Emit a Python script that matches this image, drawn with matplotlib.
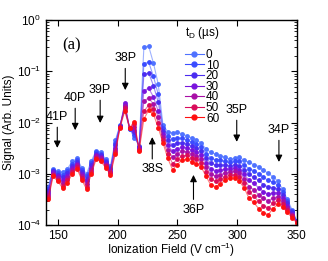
import numpy as np
import matplotlib
matplotlib.use("Agg")
import matplotlib.pyplot as plt

plt.rcParams['font.family'] = ['Liberation Sans', 'DejaVu Sans']
plt.rcParams['mathtext.default'] = 'regular'

# ionization field (V/cm)
field = np.arange(142, 351, 4)

# log10 of signal for each delay
log_0 = [-3.25, -2.9, -2.95, -2.97, -2.9, -2.76, -2.7, -2.88, -3.0, -2.75, -2.55, -2.58, -2.72, -2.85, -2.35, -2.05, -1.75, -2.12, -2.3, -2.45,
         -0.52, -0.51, -0.84, -1.25, -2.05, -2.18, -2.2, -2.19, -2.22, -2.26, -2.3, -2.34, -2.4, -2.52, -2.58, -2.62, -2.65, -2.68, -2.72, -2.7,
         -2.68, -2.74, -2.78, -2.82, -2.86, -2.93, -2.99, -3.06, -3.14, -3.3, -3.5, -3.7, -3.92]
log_10 = [-3.29, -2.92, -2.98, -3.02, -2.95, -2.8, -2.73, -2.92, -3.05, -2.79, -2.58, -2.61, -2.75, -2.88, -2.4, -2.06, -1.7, -2.12, -2.25, -2.47,
          -0.85, -0.82, -1.1, -1.45, -2.11, -2.27, -2.32, -2.3, -2.31, -2.34, -2.38, -2.42, -2.48, -2.61, -2.69, -2.73, -2.74, -2.76, -2.78, -2.76,
          -2.76, -2.83, -2.9, -2.94, -3.0, -3.07, -3.13, -3.16, -3.22, -3.36, -3.54, -3.73, -3.93]
log_20 = [-3.33, -2.95, -3.02, -3.07, -2.99, -2.84, -2.77, -2.96, -3.1, -2.83, -2.61, -2.64, -2.77, -2.91, -2.44, -2.07, -1.65, -2.11, -2.19, -2.48,
          -1.06, -1.03, -1.28, -1.6, -2.17, -2.35, -2.44, -2.4, -2.39, -2.41, -2.46, -2.49, -2.56, -2.7, -2.79, -2.83, -2.83, -2.83, -2.84, -2.83,
          -2.84, -2.92, -3.01, -3.07, -3.13, -3.21, -3.26, -3.27, -3.29, -3.42, -3.58, -3.75, -3.93]
log_30 = [-3.37, -2.97, -3.05, -3.12, -3.04, -2.88, -2.8, -3.0, -3.15, -2.88, -2.64, -2.67, -2.8, -2.94, -2.49, -2.08, -1.62, -2.11, -2.14, -2.5,
          -1.38, -1.33, -1.5, -1.78, -2.23, -2.44, -2.56, -2.51, -2.48, -2.49, -2.54, -2.57, -2.64, -2.79, -2.9, -2.94, -2.93, -2.91, -2.9, -2.89,
          -2.92, -3.01, -3.13, -3.19, -3.27, -3.35, -3.4, -3.37, -3.37, -3.48, -3.63, -3.78, -3.94]
log_40 = [-3.42, -3.0, -3.08, -3.18, -3.09, -2.92, -2.83, -3.04, -3.2, -2.92, -2.66, -2.7, -2.83, -2.96, -2.53, -2.08, -1.67, -2.11, -2.09, -2.52,
          -1.58, -1.52, -1.64, -1.9, -2.28, -2.53, -2.68, -2.61, -2.56, -2.57, -2.61, -2.65, -2.71, -2.87, -3.01, -3.04, -3.02, -2.98, -2.96, -2.95,
          -2.99, -3.1, -3.25, -3.31, -3.41, -3.48, -3.53, -3.47, -3.45, -3.53, -3.67, -3.81, -3.95]
log_50 = [-3.46, -3.02, -3.12, -3.23, -3.13, -2.96, -2.87, -3.08, -3.25, -2.96, -2.69, -2.73, -2.85, -2.99, -2.58, -2.09, -1.72, -2.1, -2.03, -2.53,
          -1.78, -1.66, -1.74, -2.0, -2.34, -2.61, -2.8, -2.72, -2.65, -2.64, -2.69, -2.72, -2.79, -2.96, -3.11, -3.15, -3.11, -3.06, -3.02, -3.02,
          -3.07, -3.19, -3.36, -3.44, -3.54, -3.62, -3.67, -3.58, -3.52, -3.59, -3.71, -3.83, -3.95]
log_60 = [-3.5, -3.05, -3.15, -3.28, -3.18, -3.0, -2.9, -3.12, -3.3, -3.0, -2.72, -2.76, -2.88, -3.02, -2.62, -2.1, -1.78, -2.1, -1.98, -2.55,
          -1.93, -1.76, -1.84, -2.1, -2.4, -2.7, -2.92, -2.82, -2.73, -2.72, -2.77, -2.8, -2.87, -3.05, -3.22, -3.25, -3.2, -3.13, -3.08, -3.08,
          -3.15, -3.28, -3.48, -3.56, -3.68, -3.76, -3.8, -3.68, -3.6, -3.65, -3.75, -3.86, -3.96]

delays = ['0', '10', '20', '30', '40', '50', '60']
series = [log_0, log_10, log_20, log_30, log_40, log_50, log_60]
colors = ['#4f72ff', '#3a4cff', '#4a2cf0', '#7a14dc', '#a80fa6', '#d90c5a', '#ff1010']

# state labels: name, field, text y, arrow tip y
labels = ['41P', '40P', '39P', '38P', '38S', '36P', '35P', '34P']
lab_x = [149.5, 164.5, 185.4, 206.4, 229.0, 263.5, 299.7, 335.0]
lab_text_y = [0.0128, 0.030, 0.043, 0.18, 1.23e-3, 2.0e-4, 0.0175, 7.1e-3]
lab_tip_y = [3.2e-3, 7.1e-3, 9.8e-3, 0.043, 5.2e-3, 9.5e-4, 4.2e-3, 1.7e-3]

fig = plt.figure(figsize=(3.28, 2.61), dpi=100)
ax = fig.add_axes([0.140, 0.138, 0.765, 0.785])

for lab, vals, c in zip(delays, series, colors):
    y = 10 ** np.array(vals)
    ax.plot(field, y, '-', color=c, lw=0.8, alpha=0.55)
    ax.plot(field, y, 'o', color=c, ms=3.5, mec='none')
    ax.plot([], [], '-o', color=c, lw=0.8, ms=3.5, label=lab)

for name, x, ty, tipy in zip(labels, lab_x, lab_text_y, lab_tip_y):
    ax.annotate(name, xy=(x, tipy), xytext=(x, ty), ha='center', va='center', fontsize=9,
                arrowprops=dict(arrowstyle='-|>', color='k', lw=0.8, mutation_scale=10,
                                shrinkA=1, shrinkB=0))

ax.text(0.104, 0.878, '(a)', transform=ax.transAxes, fontsize=12, family='Liberation Serif',
        ha='center', va='center')

ax.set_yscale('log')
ax.set_xlim(140, 350)
ax.set_ylim(1e-4, 1)
ax.set_xticks([150, 200, 250, 300, 350])
ax.tick_params(which='both', direction='in', top=True, right=True, labelsize=8.5)
ax.tick_params(which='major', length=4, width=0.8)
ax.tick_params(which='minor', length=2, width=0.6)
ax.tick_params(axis='x', which='minor', bottom=False, top=False)
for s in ax.spines.values():
    s.set_linewidth(1.0)

ax.set_xlabel('Ionization Field (V cm$^{-1}$)', fontsize=8.5, labelpad=-1)
ax.set_ylabel('Signal (Arb. Units)', fontsize=8.5, labelpad=1)

leg = ax.legend(title='t$_D$ (\u00b5s)', loc='upper left', bbox_to_anchor=(0.52, 1.018),
                frameon=False, fontsize=8.5, title_fontsize=8.5, labelspacing=-0.12,
                handlelength=1.6, handletextpad=0.2, borderpad=0.2, alignment='left')
leg._legend_box.sep = 6

fig.savefig('out.png', dpi=100)
